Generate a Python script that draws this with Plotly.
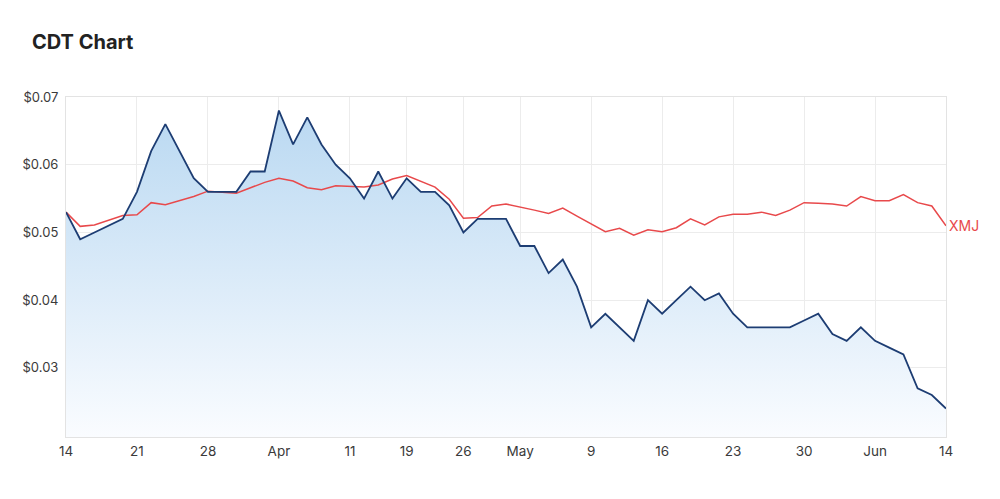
import plotly.graph_objects as go

# Trading-day index (Mar 14 2022 .. Jun 14 2022, ASX trading days)
tick_idx = [0, 5, 10, 15, 20, 24, 28, 32, 37, 42, 47, 52, 57, 62]
tick_text = ["14", "21", "28", "Apr", "11", "19", "26", "May", "9", "16", "23", "30", "Jun", "14"]

cdt = [0.053, 0.049, 0.050, 0.051, 0.052, 0.056, 0.062, 0.066, 0.062, 0.058,
       0.056, 0.056, 0.056, 0.059, 0.059, 0.068, 0.063, 0.067, 0.063, 0.060,
       0.058, 0.055, 0.059, 0.055, 0.058, 0.056, 0.056, 0.054, 0.050, 0.052,
       0.052, 0.052, 0.048, 0.048, 0.044, 0.046, 0.042, 0.036, 0.038, 0.036,
       0.034, 0.040, 0.038, 0.040, 0.042, 0.040, 0.041, 0.038, 0.036, 0.036,
       0.036, 0.036, 0.037, 0.038, 0.035, 0.034, 0.036, 0.034, 0.033, 0.032,
       0.027, 0.026, 0.024]

xmj = [0.0530, 0.0509, 0.0511, 0.0518, 0.0525, 0.0526, 0.0544, 0.0541, 0.0547, 0.0553,
       0.0561, 0.0560, 0.0558, 0.0566, 0.0574, 0.0580, 0.0576, 0.0566, 0.0563, 0.0569,
       0.0568, 0.0567, 0.0570, 0.0579, 0.0584, 0.0575, 0.0567, 0.0549, 0.0521, 0.0522,
       0.0539, 0.0542, 0.0538, 0.0533, 0.0528, 0.0536, 0.0524, 0.0513, 0.0501, 0.0506,
       0.0496, 0.0504, 0.0501, 0.0507, 0.0520, 0.0511, 0.0523, 0.0527, 0.0527, 0.0530,
       0.0525, 0.0533, 0.0544, 0.0543, 0.0542, 0.0539, 0.0553, 0.0547, 0.0547, 0.0556,
       0.0544, 0.0539, 0.0510]

y_ticks = [0.03, 0.04, 0.05, 0.06, 0.07]
y_tick_text = ["$0.03", "$0.04", "$0.05", "$0.06", "$0.07"]

x = list(range(len(cdt)))
y_min, y_max = 0.0198, 0.0700

fig = go.Figure()
fig.add_trace(go.Scatter(
    x=x, y=cdt, mode="lines", line=dict(width=0), fill="tozeroy",
    fillgradient=dict(type="vertical", start=y_min, stop=y_max,
                      colorscale=[[0, "rgba(250,252,255,1)"], [1, "rgba(183,215,241,1)"]]),
    hoverinfo="skip", showlegend=False))
fig.add_trace(go.Scatter(x=x, y=xmj, mode="lines", name="XMJ",
                         line=dict(color="#e8494b", width=1.5), showlegend=False))
fig.add_trace(go.Scatter(x=x, y=cdt, mode="lines", name="CDT",
                         line=dict(color="#1d3d73", width=1.8), showlegend=False))

fig.add_annotation(x=x[-1], y=xmj[-1], text="XMJ", showarrow=False,
                   xanchor="left", yanchor="middle", xshift=1,
                   font=dict(color="#e8494b", size=14, family="Inter"))

fig.update_layout(
    width=1000, height=499,
    margin=dict(l=66, r=54, t=97, b=62),
    paper_bgcolor="white", plot_bgcolor="white",
    font=dict(family="Inter", color="#3a3a3a", size=13),
    title=dict(text="<b>CDT Chart</b>", x=0.032, xanchor="left", y=0.916, yanchor="middle",
               font=dict(size=20, color="#222", family="Inter")),
)
fig.update_xaxes(range=[0, 62], tickmode="array", tickvals=tick_idx, ticktext=tick_text,
                 showgrid=True, gridcolor="#ececec", gridwidth=1, zeroline=False,
                 showline=True, linecolor="#e3e3e3", mirror=True, ticks="",
                 ticklabelstandoff=2, tickfont=dict(size=13.5, color="#3a3a3a"))
fig.update_yaxes(range=[y_min, y_max], tickmode="array", tickvals=y_ticks, ticktext=y_tick_text,
                 showgrid=True, gridcolor="#ececec", gridwidth=1, zeroline=False,
                 showline=True, linecolor="#e3e3e3", mirror=True, ticks="",
                 ticklabelstandoff=4, tickfont=dict(size=13, color="#3a3a3a"))

fig.write_html("out.html")
